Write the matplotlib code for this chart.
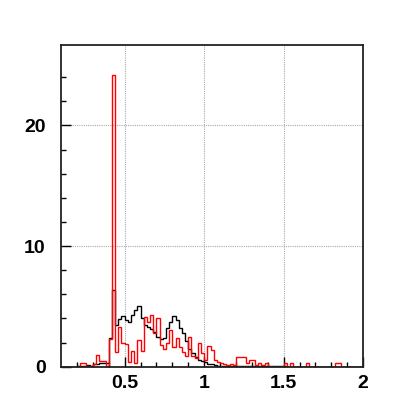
import numpy as np
import matplotlib
matplotlib.use("Agg")
import matplotlib.pyplot as plt

# histogram binning: 100 bins from 0 to 2
bin_edges = np.linspace(0.0, 2.0, 101)

# bin contents (bin i covers [0.02*i, 0.02*(i+1)) )
black_counts = [0.0] * 10 + [
    0.05, 0.1, 0.1, 0.15, 0.1, 0.2, 0.25, 0.3, 0.3, 0.3,      # 0.20 - 0.38
    2.4, 6.4, 3.5, 3.95, 4.2, 3.9, 3.7, 4.3, 4.7, 5.05,       # 0.40 - 0.58
    4.0, 3.5, 3.3, 3.1, 2.9, 2.5, 2.3, 2.4, 3.2, 3.7,         # 0.60 - 0.78
    4.2, 3.9, 3.2, 2.8, 2.1, 1.5, 1.1, 0.8, 0.6, 0.5,         # 0.80 - 0.98
    0.4, 0.25, 0.2, 0.15, 0.1, 0.1, 0.05, 0.05, 0.05, 0.05,   # 1.00 - 1.18
    0.05, 0.05, 0.05, 0.05, 0.05, 0.05, 0.05, 0.05, 0.05, 0.05,
    0.05, 0.05, 0.05, 0.05, 0.05, 0.05, 0.0, 0.0, 0.0, 0.0,
] + [0.0] * 20

red_counts = [0.0] * 10 + [
    0.0, 0.3, 0.3, 0.1, 0.1, 0.2, 1.0, 0.5, 0.5, 0.1,         # 0.20 - 0.38
    2.3, 24.2, 1.2, 3.3, 2.0, 1.9, 0.4, 1.3, 0.3, 2.2,        # 0.40 - 0.58
    1.3, 4.1, 3.7, 4.3, 2.8, 4.0, 1.8, 1.5, 1.95, 3.05,       # 0.60 - 0.78
    1.6, 2.35, 1.6, 1.25, 0.9, 2.5, 0.9, 0.7, 1.95, 1.1,      # 0.80 - 0.98
    0.6, 1.7, 1.4, 0.6, 0.4, 0.3, 0.2, 0.15, 0.2, 0.15,       # 1.00 - 1.18
    0.8, 0.8, 0.8, 0.3, 0.55, 0.55, 0.15, 0.3, 0.15, 0.3,     # 1.20 - 1.38
    0.0, 0.0, 0.0, 0.0, 0.0, 0.3, 0.0, 0.3, 0.0, 0.0,         # 1.40 - 1.58
    0.0, 0.0, 0.3, 0.0, 0.0, 0.0, 0.0, 0.0, 0.0, 0.0,         # 1.60 - 1.78
    0.0, 0.3, 0.3, 0.0, 0.0, 0.0, 0.0, 0.0, 0.0, 0.0,         # 1.80 - 1.98
]

x_major = [0.5, 1.0, 1.5, 2.0]
x_labels = ["0.5", "1", "1.5", "2"]
y_major = [0, 10, 20]
y_labels = ["0", "10", "20"]

fig = plt.figure(figsize=(4.04, 4.13), dpi=100)
ax = fig.add_axes([0.151, 0.112, 0.748, 0.780])

ax.stairs(black_counts, bin_edges, color="black", linewidth=1.0, baseline=None)
ax.stairs(red_counts, bin_edges, color="red", linewidth=1.0, baseline=None)

ax.set_xlim(0.1, 2.0)
ax.set_ylim(0, 26.7)

ax.set_xticks(x_major)
ax.set_xticklabels(x_labels)
ax.set_xticks(np.arange(0.2, 2.0, 0.1), minor=True)
ax.set_yticks(y_major)
ax.set_yticklabels(y_labels)
ax.set_yticks(np.arange(2, 26, 2), minor=True)

for lab in ax.get_xticklabels() + ax.get_yticklabels():
    lab.set_fontfamily("Liberation Sans")
    lab.set_fontweight("bold")
    lab.set_fontsize(14)

ax.tick_params(which="both", direction="in", top=False, right=False, colors="black")
ax.tick_params(which="major", length=7, width=1.0)
ax.tick_params(which="minor", length=3.5, width=1.0)
ax.tick_params(axis="x", which="major", pad=6)
ax.tick_params(axis="y", which="major", pad=11)

ax.grid(True, which="major", color="#aaaaaa", linestyle=(0, (1, 1)), linewidth=0.8)
ax.set_axisbelow(True)

for s in ax.spines.values():
    s.set_linewidth(1.3)
    s.set_color("#222222")

plt.savefig("out.png", dpi=100)
